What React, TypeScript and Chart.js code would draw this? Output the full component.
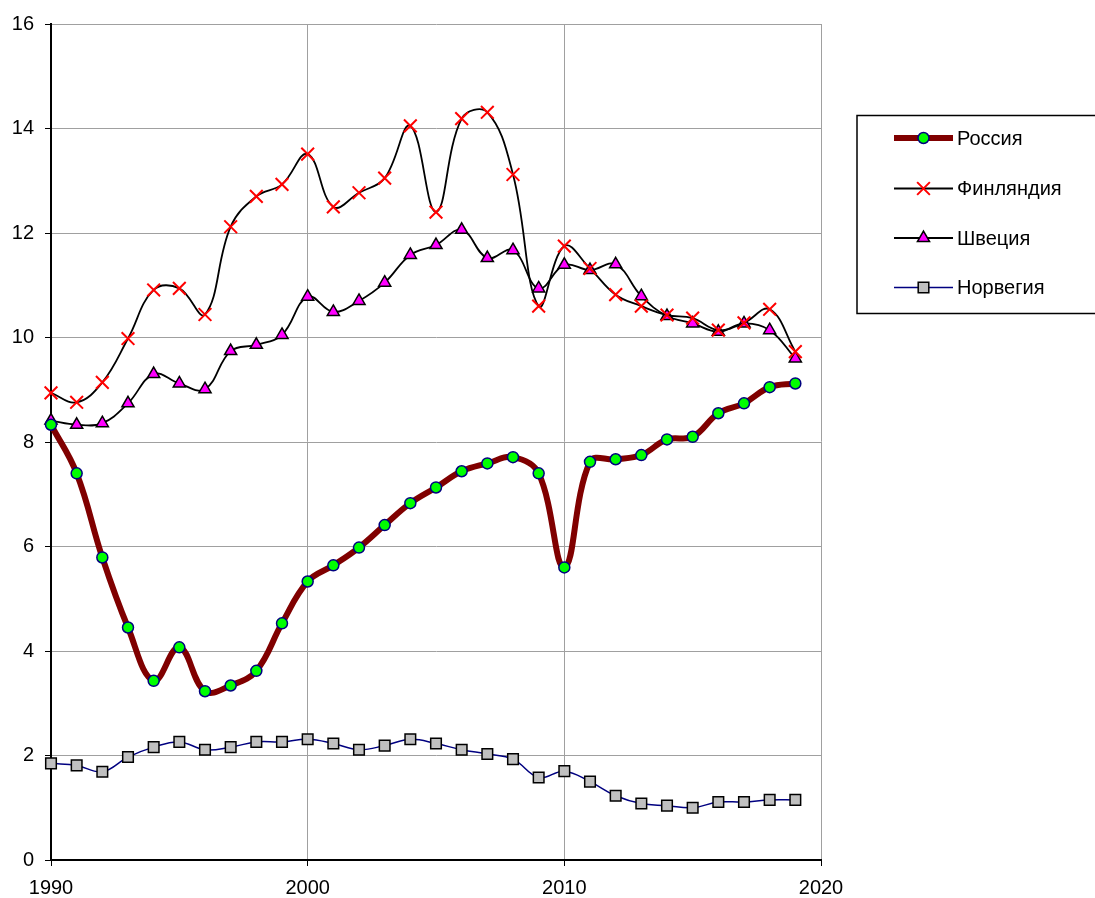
import React, { useEffect, useRef } from 'react';
import { Chart, registerables } from 'chart.js';
import { drawPoint } from 'chart.js/helpers';

Chart.register(...registerables);

const years = [1990, 1991, 1992, 1993, 1994, 1995, 1996, 1997, 1998, 1999, 2000, 2001, 2002, 2003, 2004, 2005, 2006, 2007, 2008, 2009, 2010, 2011, 2012, 2013, 2014, 2015, 2016, 2017, 2018, 2019];
const russia = [8.33, 7.40, 5.79, 4.45, 3.43, 4.07, 3.23, 3.34, 3.62, 4.53, 5.33, 5.64, 5.98, 6.41, 6.83, 7.13, 7.44, 7.59, 7.71, 7.40, 5.60, 7.62, 7.67, 7.75, 8.05, 8.10, 8.55, 8.74, 9.05, 9.12];
const finland = [8.94, 8.76, 9.14, 9.98, 10.91, 10.94, 10.44, 12.12, 12.70, 12.93, 13.51, 12.50, 12.77, 13.05, 14.05, 12.40, 14.19, 14.31, 13.12, 10.60, 11.75, 11.32, 10.82, 10.60, 10.43, 10.37, 10.14, 10.28, 10.54, 9.73];
const sweden = [8.41, 8.33, 8.36, 8.74, 9.30, 9.12, 9.01, 9.74, 9.86, 10.05, 10.78, 10.49, 10.70, 11.05, 11.58, 11.77, 12.06, 11.52, 11.67, 10.94, 11.39, 11.29, 11.40, 10.79, 10.41, 10.27, 10.11, 10.27, 10.14, 9.60];
const norway = [1.85, 1.81, 1.69, 1.97, 2.16, 2.26, 2.11, 2.16, 2.26, 2.26, 2.31, 2.23, 2.11, 2.19, 2.31, 2.23, 2.11, 2.03, 1.93, 1.58, 1.70, 1.50, 1.23, 1.08, 1.04, 1.00, 1.11, 1.11, 1.15, 1.15];
const seriesNames = ['Россия', 'Финляндия', 'Швеция', 'Норвегия'];
const xTicks = [1990, 2000, 2010, 2020];

const FONT = '"Liberation Sans", Arial, sans-serif';

const legendPlugin = {
  id: 'boxLegend',
  afterDraw(chart: any) {
    const ctx = chart.ctx;
    ctx.save();
    ctx.strokeStyle = '#000';
    ctx.lineWidth = 1.5;
    ctx.strokeRect(857, 115.5, 260, 198);
    const rowY = [138, 188.5, 238, 287.5];
    chart.data.datasets.forEach((ds: any, i: number) => {
      const y = rowY[i];
      ctx.beginPath();
      ctx.strokeStyle = ds.borderColor;
      ctx.lineWidth = ds.borderWidth;
      ctx.lineCap = 'butt';
      ctx.moveTo(894, y);
      ctx.lineTo(953, y);
      ctx.stroke();
      ctx.fillStyle = ds.pointBackgroundColor;
      ctx.strokeStyle = ds.pointBorderColor;
      ctx.lineWidth = ds.pointBorderWidth;
      drawPoint(ctx, { pointStyle: ds.pointStyle, radius: ds.pointRadius, rotation: 0, borderWidth: ds.pointBorderWidth }, 923.5, y);
      ctx.fillStyle = '#000';
      ctx.font = `20px ${FONT}`;
      ctx.textBaseline = 'middle';
      ctx.textAlign = 'left';
      ctx.fillText(ds.label, 957, y + 1);
    });
    ctx.restore();
  },
};

export default function App() {
  const ref = useRef<HTMLCanvasElement>(null);
  useEffect(() => {
    const toPts = (arr: number[]) => arr.map((v, i) => ({ x: years[i], y: v }));
    const chart = new Chart(ref.current!, {
      type: 'line',
      data: {
        datasets: [
          {
            label: seriesNames[0], data: toPts(russia), borderColor: '#800000', borderWidth: 6,
            pointStyle: 'circle', pointRadius: 5.5, pointBackgroundColor: '#00ff00', pointBorderColor: '#000080', pointBorderWidth: 1.5,
            tension: 0.4, clip: false,
          },
          {
            label: seriesNames[1], data: toPts(finland), borderColor: '#000000', borderWidth: 1.8,
            pointStyle: 'crossRot', pointRadius: 9, pointBackgroundColor: '#ff0000', pointBorderColor: '#ff0000', pointBorderWidth: 2,
            tension: 0.4, clip: false,
          },
          {
            label: seriesNames[2], data: toPts(sweden), borderColor: '#000000', borderWidth: 1.8,
            pointStyle: 'triangle', pointRadius: 7, pointBackgroundColor: '#ff00ff', pointBorderColor: '#000000', pointBorderWidth: 1.5,
            tension: 0.4, clip: false,
          },
          {
            label: seriesNames[3], data: toPts(norway), borderColor: '#000080', borderWidth: 1.5,
            pointStyle: 'rect', pointRadius: 7.5, pointBackgroundColor: '#c0c0c0', pointBorderColor: '#000000', pointBorderWidth: 1.5,
            tension: 0.4, clip: false,
          },
        ],
      },
      options: {
        responsive: false,
        animation: false,
        layout: { padding: { left: 0, right: 274, top: 24, bottom: 0 } },
        plugins: { legend: { display: false }, tooltip: { enabled: false } },
        scales: {
          x: {
            type: 'linear', min: 1990, max: 2020,
            afterBuildTicks: (s: any) => { s.ticks = xTicks.map((v) => ({ value: v })); },
            afterFit: (s: any) => { s.height = 38; },
            ticks: { color: '#000', font: { family: FONT, size: 20 }, padding: 10, callback: (v: any) => String(v), maxRotation: 0 },
            grid: { color: '#a0a0a0', lineWidth: 1, tickColor: '#000', tickLength: 6 },
            border: { color: '#000', width: 2 },
          },
          y: {
            min: 0, max: 16,
            afterFit: (s: any) => { s.width = 51; },
            ticks: { stepSize: 2, color: '#000', font: { family: FONT, size: 20 }, padding: 11 },
            grid: { color: '#a0a0a0', lineWidth: 1, tickColor: '#000', tickLength: 6 },
            border: { color: '#000', width: 2 },
          },
        },
      },
      plugins: [legendPlugin],
    });
    return () => chart.destroy();
  }, []);
  return (
    <div style={{ position: 'absolute', left: 0, top: 0, width: 1095, height: 898, background: '#fff' }}>
      <canvas ref={ref} width={1095} height={898} style={{ display: 'block' }} />
    </div>
  );
}
